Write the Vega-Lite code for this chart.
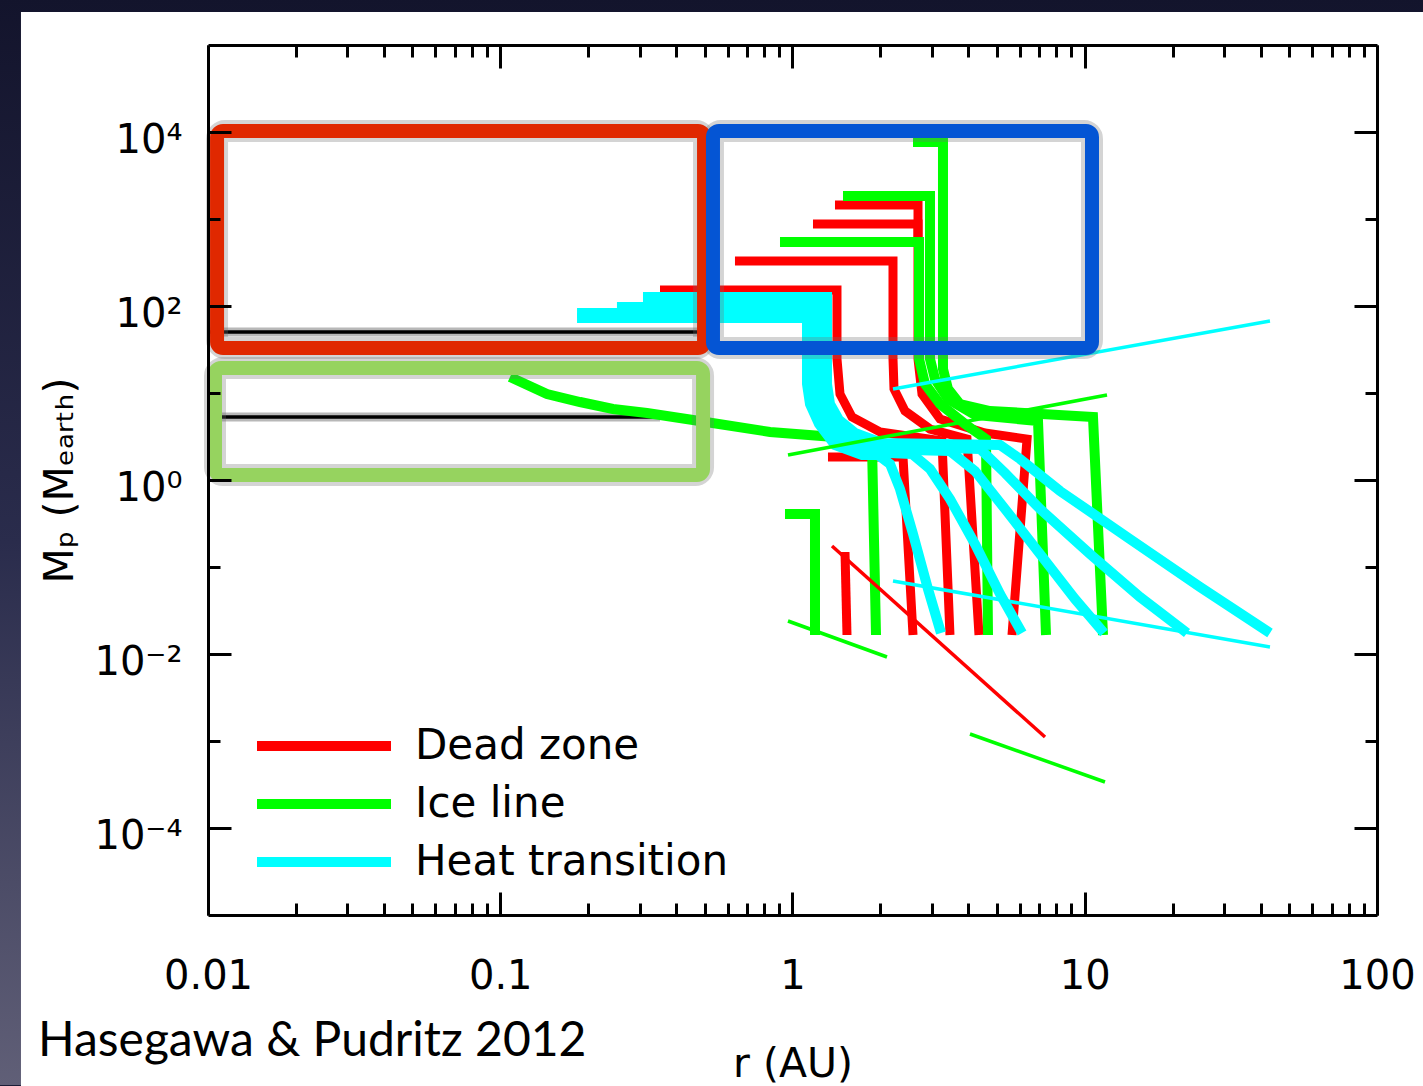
{
  "$schema": "https://vega.github.io/schema/vega-lite/v6.json",
  "width": 1169,
  "height": 870,
  "autosize": {"type": "none"},
  "padding": {"left": 208, "top": 45, "right": 46, "bottom": 171},
  "background": "#1b1d37",
  "config": {"view": {"stroke": null}, "font": "DejaVu Sans"},
  "datasets": {
    "tracks": [
      {"series": "Dead zone", "track": "d1", "i": 0, "r": 1.5363, "m": 0.01654},
      {"series": "Dead zone", "track": "d1", "i": 1, "r": 1.5122, "m": 0.1487},
      {"series": "Dead zone", "track": "d2", "i": 0, "r": 2.5844, "m": 0.01654},
      {"series": "Dead zone", "track": "d2", "i": 1, "r": 2.3884, "m": 1.838},
      {"series": "Dead zone", "track": "d2", "i": 2, "r": 1.3226, "m": 1.838},
      {"series": "Dead zone", "track": "d3", "i": 0, "r": 3.4583, "m": 0.01654},
      {"series": "Dead zone", "track": "d3", "i": 1, "r": 3.247, "m": 2.807},
      {"series": "Dead zone", "track": "d3", "i": 2, "r": 1.9925, "m": 3.563},
      {"series": "Dead zone", "track": "d3", "i": 3, "r": 1.598, "m": 5.298},
      {"series": "Dead zone", "track": "d3", "i": 4, "r": 1.4538, "m": 9.739},
      {"series": "Dead zone", "track": "d3", "i": 5, "r": 1.4198, "m": 24.59},
      {"series": "Dead zone", "track": "d3", "i": 6, "r": 1.4198, "m": 152.7},
      {"series": "Dead zone", "track": "d3", "i": 7, "r": 0.35206, "m": 152.7},
      {"series": "Dead zone", "track": "d4", "i": 0, "r": 4.3464, "m": 0.01654},
      {"series": "Dead zone", "track": "d4", "i": 1, "r": 3.9542, "m": 2.96},
      {"series": "Dead zone", "track": "d4", "i": 2, "r": 2.9542, "m": 3.857},
      {"series": "Dead zone", "track": "d4", "i": 3, "r": 2.4263, "m": 6.21},
      {"series": "Dead zone", "track": "d4", "i": 4, "r": 2.2249, "m": 11.12},
      {"series": "Dead zone", "track": "d4", "i": 5, "r": 2.2074, "m": 24.59},
      {"series": "Dead zone", "track": "d4", "i": 6, "r": 2.2074, "m": 329.1},
      {"series": "Dead zone", "track": "d4", "i": 7, "r": 0.63557, "m": 329.1},
      {"series": "Dead zone", "track": "d5", "i": 0, "r": 5.6372, "m": 0.01654},
      {"series": "Dead zone", "track": "d5", "i": 1, "r": 6.3456, "m": 2.96},
      {"series": "Dead zone", "track": "d5", "i": 2, "r": 4.5567, "m": 3.47},
      {"series": "Dead zone", "track": "d5", "i": 3, "r": 3.1963, "m": 5.025},
      {"series": "Dead zone", "track": "d5", "i": 4, "r": 2.7744, "m": 9.739},
      {"series": "Dead zone", "track": "d5", "i": 5, "r": 2.6883, "m": 24.59},
      {"series": "Dead zone", "track": "d5", "i": 6, "r": 2.6883, "m": 876.0},
      {"series": "Dead zone", "track": "d5", "i": 7, "r": 1.1752, "m": 876.0},
      {"series": "Dead zone", "track": "d6", "i": 0, "r": 2.6883, "m": 516.1},
      {"series": "Dead zone", "track": "d6", "i": 1, "r": 2.6883, "m": 1448.4},
      {"series": "Dead zone", "track": "d6", "i": 2, "r": 1.3976, "m": 1448.4},
      {"series": "Ice line", "track": "i1", "i": 0, "r": 1.1939, "m": 0.01654},
      {"series": "Ice line", "track": "i1", "i": 1, "r": 1.1939, "m": 0.4066},
      {"series": "Ice line", "track": "i1", "i": 2, "r": 0.94258, "m": 0.4066},
      {"series": "Ice line", "track": "i2", "i": 0, "r": 1.9307, "m": 0.01654},
      {"series": "Ice line", "track": "i2", "i": 1, "r": 1.8708, "m": 2.526},
      {"series": "Ice line", "track": "i2", "i": 2, "r": 1.702, "m": 2.96},
      {"series": "Ice line", "track": "i2", "i": 3, "r": 0.83753, "m": 3.563},
      {"series": "Ice line", "track": "i2", "i": 4, "r": 0.45659, "m": 4.894},
      {"series": "Ice line", "track": "i2", "i": 5, "r": 0.31777, "m": 5.89},
      {"series": "Ice line", "track": "i2", "i": 6, "r": 0.24302, "m": 6.548},
      {"series": "Ice line", "track": "i2", "i": 7, "r": 0.18749, "m": 7.88},
      {"series": "Ice line", "track": "i2", "i": 8, "r": 0.14454, "m": 9.739},
      {"series": "Ice line", "track": "i2", "i": 9, "r": 0.10798, "m": 15.27},
      {"series": "Ice line", "track": "i3", "i": 0, "r": 4.6658, "m": 0.01654},
      {"series": "Ice line", "track": "i3", "i": 1, "r": 4.5928, "m": 2.96},
      {"series": "Ice line", "track": "i3", "i": 2, "r": 3.8924, "m": 4.403},
      {"series": "Ice line", "track": "i3", "i": 3, "r": 3.1963, "m": 7.474},
      {"series": "Ice line", "track": "i3", "i": 4, "r": 2.8408, "m": 12.69},
      {"series": "Ice line", "track": "i3", "i": 5, "r": 2.7096, "m": 24.59},
      {"series": "Ice line", "track": "i3", "i": 6, "r": 2.7096, "m": 543.9},
      {"series": "Ice line", "track": "i3", "i": 7, "r": 0.90617, "m": 543.9},
      {"series": "Ice line", "track": "i4", "i": 0, "r": 7.3696, "m": 0.01654},
      {"series": "Ice line", "track": "i4", "i": 1, "r": 6.9192, "m": 4.766},
      {"series": "Ice line", "track": "i4", "i": 2, "r": 4.2115, "m": 5.586},
      {"series": "Ice line", "track": "i4", "i": 3, "r": 3.4042, "m": 8.532},
      {"series": "Ice line", "track": "i4", "i": 4, "r": 3.0729, "m": 14.49},
      {"series": "Ice line", "track": "i4", "i": 5, "r": 2.9542, "m": 24.59},
      {"series": "Ice line", "track": "i4", "i": 6, "r": 2.9542, "m": 1838.5},
      {"series": "Ice line", "track": "i4", "i": 7, "r": 1.4886, "m": 1838.5},
      {"series": "Ice line", "track": "i5", "i": 0, "r": 11.546, "m": 0.01654},
      {"series": "Ice line", "track": "i5", "i": 1, "r": 10.671, "m": 5.298},
      {"series": "Ice line", "track": "i5", "i": 2, "r": 4.74, "m": 6.21},
      {"series": "Ice line", "track": "i5", "i": 3, "r": 3.7419, "m": 7.474},
      {"series": "Ice line", "track": "i5", "i": 4, "r": 3.4042, "m": 11.12},
      {"series": "Ice line", "track": "i5", "i": 5, "r": 3.2728, "m": 18.88},
      {"series": "Ice line", "track": "i5", "i": 6, "r": 3.2728, "m": 7675},
      {"series": "Ice line", "track": "i5", "i": 7, "r": 2.5844, "m": 7675},
      {"series": "Heat transition", "track": "h1", "i": 0, "r": 3.2216, "m": 0.01743},
      {"series": "Heat transition", "track": "h1", "i": 1, "r": 2.9081, "m": 0.05586},
      {"series": "Heat transition", "track": "h1", "i": 2, "r": 2.5844, "m": 0.2394},
      {"series": "Heat transition", "track": "h1", "i": 3, "r": 2.3326, "m": 0.788},
      {"series": "Heat transition", "track": "h1", "i": 4, "r": 2.1559, "m": 1.527},
      {"series": "Heat transition", "track": "h1", "i": 5, "r": 1.9614, "m": 1.938},
      {"series": "Heat transition", "track": "h1", "i": 6, "r": 1.7291, "m": 1.938},
      {"series": "Heat transition", "track": "h1", "i": 7, "r": 1.3976, "m": 2.526},
      {"series": "Heat transition", "track": "h1", "i": 8, "r": 1.232, "m": 4.403},
      {"series": "Heat transition", "track": "h1", "i": 9, "r": 1.1478, "m": 7.474},
      {"series": "Heat transition", "track": "h1", "i": 10, "r": 1.121, "m": 12.69},
      {"series": "Heat transition", "track": "h1", "i": 11, "r": 1.121, "m": 72.79},
      {"series": "Heat transition", "track": "h1", "i": 12, "r": 0.18312, "m": 72.79},
      {"series": "Heat transition", "track": "h2", "i": 0, "r": 6.1006, "m": 0.01743},
      {"series": "Heat transition", "track": "h2", "i": 1, "r": 5.1286, "m": 0.04894},
      {"series": "Heat transition", "track": "h2", "i": 2, "r": 4.2115, "m": 0.1838},
      {"series": "Heat transition", "track": "h2", "i": 3, "r": 3.4583, "m": 0.6047},
      {"series": "Heat transition", "track": "h2", "i": 4, "r": 2.9542, "m": 1.338},
      {"series": "Heat transition", "track": "h2", "i": 5, "r": 2.5641, "m": 1.99},
      {"series": "Heat transition", "track": "h2", "i": 6, "r": 1.7985, "m": 2.0977},
      {"series": "Heat transition", "track": "h2", "i": 7, "r": 1.4538, "m": 2.734},
      {"series": "Heat transition", "track": "h2", "i": 8, "r": 1.2816, "m": 4.403},
      {"series": "Heat transition", "track": "h2", "i": 9, "r": 1.1939, "m": 7.474},
      {"series": "Heat transition", "track": "h2", "i": 10, "r": 1.166, "m": 12.69},
      {"series": "Heat transition", "track": "h2", "i": 11, "r": 1.166, "m": 83.09},
      {"series": "Heat transition", "track": "h2", "i": 12, "r": 0.18312, "m": 83.09},
      {"series": "Heat transition", "track": "h3", "i": 0, "r": 11.637, "m": 0.01743},
      {"series": "Heat transition", "track": "h3", "i": 1, "r": 9.2607, "m": 0.04287},
      {"series": "Heat transition", "track": "h3", "i": 2, "r": 7.0291, "m": 0.1411},
      {"series": "Heat transition", "track": "h3", "i": 3, "r": 5.3357, "m": 0.4642},
      {"series": "Heat transition", "track": "h3", "i": 4, "r": 4.2115, "m": 1.269},
      {"series": "Heat transition", "track": "h3", "i": 5, "r": 3.4583, "m": 2.154},
      {"series": "Heat transition", "track": "h3", "i": 6, "r": 1.8708, "m": 2.272},
      {"series": "Heat transition", "track": "h3", "i": 7, "r": 1.5122, "m": 2.96},
      {"series": "Heat transition", "track": "h3", "i": 8, "r": 1.3331, "m": 4.403},
      {"series": "Heat transition", "track": "h3", "i": 9, "r": 1.2418, "m": 7.474},
      {"series": "Heat transition", "track": "h3", "i": 10, "r": 1.2128, "m": 12.69},
      {"series": "Heat transition", "track": "h3", "i": 11, "r": 1.2128, "m": 97.39},
      {"series": "Heat transition", "track": "h3", "i": 12, "r": 0.2508, "m": 97.39},
      {"series": "Heat transition", "track": "h4", "i": 0, "r": 22.38, "m": 0.01743},
      {"series": "Heat transition", "track": "h4", "i": 1, "r": 15.457, "m": 0.0452},
      {"series": "Heat transition", "track": "h4", "i": 2, "r": 10.422, "m": 0.1411},
      {"series": "Heat transition", "track": "h4", "i": 3, "r": 7.0291, "m": 0.4642},
      {"series": "Heat transition", "track": "h4", "i": 4, "r": 5.3357, "m": 1.2036},
      {"series": "Heat transition", "track": "h4", "i": 5, "r": 4.3808, "m": 2.272},
      {"series": "Heat transition", "track": "h4", "i": 6, "r": 1.946, "m": 2.4595},
      {"series": "Heat transition", "track": "h4", "i": 7, "r": 1.573, "m": 3.2043},
      {"series": "Heat transition", "track": "h4", "i": 8, "r": 1.3868, "m": 4.6416},
      {"series": "Heat transition", "track": "h4", "i": 9, "r": 1.2917, "m": 7.474},
      {"series": "Heat transition", "track": "h4", "i": 10, "r": 1.2616, "m": 12.69},
      {"series": "Heat transition", "track": "h4", "i": 11, "r": 1.2616, "m": 111.2},
      {"series": "Heat transition", "track": "h4", "i": 12, "r": 0.30792, "m": 111.2},
      {"series": "Heat transition", "track": "h5", "i": 0, "r": 43.03, "m": 0.01743},
      {"series": "Heat transition", "track": "h5", "i": 1, "r": 24.801, "m": 0.05891},
      {"series": "Heat transition", "track": "h5", "i": 2, "r": 14.284, "m": 0.2098},
      {"series": "Heat transition", "track": "h5", "i": 3, "r": 8.2286, "m": 0.7474},
      {"series": "Heat transition", "track": "h5", "i": 4, "r": 6.0053, "m": 1.743},
      {"series": "Heat transition", "track": "h5", "i": 5, "r": 5.1286, "m": 2.526},
      {"series": "Heat transition", "track": "h5", "i": 6, "r": 2.0242, "m": 2.6638},
      {"series": "Heat transition", "track": "h5", "i": 7, "r": 1.6362, "m": 3.47},
      {"series": "Heat transition", "track": "h5", "i": 8, "r": 1.4424, "m": 4.894},
      {"series": "Heat transition", "track": "h5", "i": 9, "r": 1.3436, "m": 7.474},
      {"series": "Heat transition", "track": "h5", "i": 10, "r": 1.3122, "m": 12.69},
      {"series": "Heat transition", "track": "h5", "i": 11, "r": 1.3122, "m": 126.9},
      {"series": "Heat transition", "track": "h5", "i": 12, "r": 0.30792, "m": 126.9}
    ],
    "thin": [
      {"series": "Ice line", "track": "ta", "i": 0, "r": 0.96515, "m": 0.02395},
      {"series": "Ice line", "track": "ta", "i": 1, "r": 2.1055, "m": 0.009237},
      {"series": "Ice line", "track": "tb", "i": 0, "r": 4.0488, "m": 0.001204},
      {"series": "Ice line", "track": "tb", "i": 1, "r": 11.729, "m": 0.0003379},
      {"series": "Ice line", "track": "tc", "i": 0, "r": 0.96515, "m": 1.938},
      {"series": "Ice line", "track": "tc", "i": 1, "r": 11.915, "m": 9.484},
      {"series": "Dead zone", "track": "td", "i": 0, "r": 1.365, "m": 0.1744},
      {"series": "Dead zone", "track": "td", "i": 1, "r": 7.3118, "m": 0.001111},
      {"series": "Heat transition", "track": "te", "i": 0, "r": 2.2074, "m": 11.12},
      {"series": "Heat transition", "track": "te", "i": 1, "r": 43.03, "m": 67.23},
      {"series": "Heat transition", "track": "tf", "i": 0, "r": 2.2074, "m": 0.069},
      {"series": "Heat transition", "track": "tf", "i": 1, "r": 43.03, "m": 0.01204}
    ],
    "black": [
      {"m": 50.24, "r": 0.01, "r2": 0.4827},
      {"m": 5.298, "r": 0.01, "r2": 0.352}
    ],
    "boxes": [
      {"box": "red", "r": 0.01074, "r2": 0.4981, "m": 10268, "m2": 32.91},
      {"box": "blue", "r": 0.5344, "r2": 10.587, "m": 10268, "m2": 32.91},
      {"box": "green", "r": 0.010567, "r2": 0.4942, "m": 19.38, "m2": 1.1416}
    ]
  },
  "layer": [
    {
      "data": {"values": [{"panel": "slide"}]},
      "mark": {"type": "rect", "fill": {"gradient": "linear", "x1": 0, "y1": 0, "x2": 0, "y2": 1, "stops": [{"offset": 0, "color": "#13142c"}, {"offset": 0.5, "color": "#2a2c4c"}, {"offset": 1, "color": "#605f77"}]}},
      "encoding": {
        "x": {"datum": 0.0019417, "type": "quantitative", "scale": {"type": "log", "domain": [0.01, 100]}, "axis": null},
        "x2": {"datum": 143.7},
        "y": {"datum": 337900, "type": "quantitative", "scale": {"type": "log", "domain": [0.00001, 100000]}, "axis": null},
        "y2": {"datum": 1.111e-7}
      }
    },
    {
      "data": {"values": [{"panel": "page"}]},
      "mark": {"type": "rect", "fill": "#ffffff"},
      "encoding": {
        "x": {"datum": 0.002291, "type": "quantitative", "scale": {"type": "log", "domain": [0.01, 100]}, "axis": null},
        "x2": {"datum": 1000},
        "y": {"datum": 239500, "type": "quantitative", "scale": {"type": "log", "domain": [0.00001, 100000]}, "axis": null},
        "y2": {"datum": 1e-9}
      }
    },
    {
      "data": {"name": "black"},
      "mark": {"type": "rule", "color": "#b8b8b8", "strokeWidth": 9},
      "encoding": {
        "x": {"field": "r", "type": "quantitative", "scale": {"type": "log", "domain": [0.01, 100]}, "axis": null},
        "x2": {"field": "r2"},
        "y": {"field": "m", "type": "quantitative", "scale": {"type": "log", "domain": [0.00001, 100000]}, "axis": null}
      }
    },
    {
      "data": {"name": "black"},
      "mark": {"type": "rule", "color": "#000000", "strokeWidth": 3.5},
      "encoding": {
        "x": {"field": "r", "type": "quantitative", "scale": {"type": "log", "domain": [0.01, 100]}, "axis": null},
        "x2": {"field": "r2"},
        "y": {"field": "m", "type": "quantitative", "scale": {"type": "log", "domain": [0.00001, 100000]}, "axis": null}
      }
    },
    {
      "data": {"name": "tracks"},
      "transform": [{"filter": "datum.series == 'Dead zone'"}],
      "mark": {"type": "line", "strokeWidth": 9, "strokeJoin": "miter", "strokeCap": "butt"},
      "encoding": {
        "x": {
          "field": "r", "type": "quantitative", "scale": {"type": "log", "domain": [0.01, 100]},
          "axis": {
            "orient": "bottom", "zindex": 1,
            "values": [0.01, 0.02, 0.03, 0.04, 0.05, 0.06, 0.07, 0.08, 0.09, 0.1, 0.2, 0.3, 0.4, 0.5, 0.6, 0.7, 0.8, 0.9, 1, 2, 3, 4, 5, 6, 7, 8, 9, 10, 20, 30, 40, 50, 60, 70, 80, 90, 100],
            "labelExpr": "datum.value == 0.01 ? '0.01' : datum.value == 0.1 ? '0.1' : datum.value == 1 ? '1' : datum.value == 10 ? '10' : datum.value == 100 ? '100' : ''",
            "tickSize": {"condition": {"test": "abs(log(datum.value)/LN10 - round(log(datum.value)/LN10)) < 0.01", "value": -23}, "value": -12},
            "tickColor": "#000000", "tickWidth": 3,
            "domainColor": "#000000", "domainWidth": 3,
            "grid": false,
            "labelFont": "DejaVu Sans", "labelFontSize": 40, "labelColor": "#000000", "labelPadding": 64,
            "labelFlush": false, "labelOverlap": false, "labelBound": false,
            "title": "r (AU)", "titleFont": "DejaVu Sans", "titleFontSize": 41, "titleFontWeight": "normal", "titleColor": "#000000", "titlePadding": 37
          }
        },
        "y": {
          "field": "m", "type": "quantitative", "scale": {"type": "log", "domain": [0.00001, 100000]},
          "axis": {
            "orient": "left", "zindex": 1,
            "values": [0.0001, 0.001, 0.01, 0.1, 1, 10, 100, 1000, 10000],
            "labelExpr": "datum.value > 5000 ? '10⁴' : (datum.value > 50 && datum.value < 200) ? '10²' : (datum.value > 0.5 && datum.value < 2) ? '10⁰' : (datum.value > 0.005 && datum.value < 0.02) ? '10⁻²' : datum.value < 0.0002 ? '10⁻⁴' : ''",
            "tickSize": {"condition": {"test": "abs(round(log(datum.value)/LN10)) % 2 == 0", "value": -23}, "value": -12},
            "tickColor": "#000000", "tickWidth": 3,
            "domainColor": "#000000", "domainWidth": 3,
            "grid": false,
            "labelFont": "DejaVu Sans", "labelFontSize": 40, "labelColor": "#000000", "labelPadding": 49, "labelOffset": 8,
            "labelOverlap": false, "labelBound": false,
            "title": "Mₚ (Mₑₐᵣₜₕ)", "titleFont": "DejaVu Sans", "titleFontSize": 41, "titleFontWeight": "normal", "titleColor": "#000000", "titlePadding": 12
          }
        },
        "color": {
          "field": "series", "type": "nominal",
          "scale": {"domain": ["Dead zone", "Ice line", "Heat transition"], "range": ["#ff0000", "#00ff00", "#00ffff"]},
          "legend": {
            "title": null, "orient": "none", "legendX": 95, "legendY": 680, "direction": "vertical",
            "symbolType": "M-6.7,0H6.7", "symbolSize": 400, "symbolStrokeWidth": 10,
            "labelFont": "DejaVu Sans", "labelFontSize": 42, "labelColor": "#000000", "labelOffset": 70, "labelLimit": 700,
            "rowPadding": 16, "padding": 0
          }
        },
        "detail": {"field": "track", "type": "nominal"},
        "order": {"field": "i", "type": "quantitative"}
      }
    },
    {
      "data": {"name": "tracks"},
      "transform": [{"filter": "datum.series == 'Ice line'"}],
      "mark": {"type": "line", "strokeWidth": 10, "strokeJoin": "miter", "strokeCap": "butt"},
      "encoding": {
        "x": {"field": "r", "type": "quantitative", "scale": {"type": "log", "domain": [0.01, 100]}, "axis": null},
        "y": {"field": "m", "type": "quantitative", "scale": {"type": "log", "domain": [0.00001, 100000]}, "axis": null},
        "color": {"field": "series", "type": "nominal"},
        "detail": {"field": "track", "type": "nominal"},
        "order": {"field": "i", "type": "quantitative"}
      }
    },
    {
      "data": {"name": "tracks"},
      "transform": [{"filter": "datum.series == 'Heat transition'"}],
      "mark": {"type": "line", "strokeWidth": 10, "strokeJoin": "miter", "strokeCap": "butt"},
      "encoding": {
        "x": {"field": "r", "type": "quantitative", "scale": {"type": "log", "domain": [0.01, 100]}, "axis": null},
        "y": {"field": "m", "type": "quantitative", "scale": {"type": "log", "domain": [0.00001, 100000]}, "axis": null},
        "color": {"field": "series", "type": "nominal"},
        "detail": {"field": "track", "type": "nominal"},
        "order": {"field": "i", "type": "quantitative"}
      }
    },
    {
      "data": {"name": "thin"},
      "mark": {"type": "line", "strokeWidth": 3.5, "strokeCap": "butt"},
      "encoding": {
        "x": {
          "field": "r", "type": "quantitative", "scale": {"type": "log", "domain": [0.01, 100]},
          "axis": {
            "orient": "top", "zindex": 1,
            "values": [0.01, 0.02, 0.03, 0.04, 0.05, 0.06, 0.07, 0.08, 0.09, 0.1, 0.2, 0.3, 0.4, 0.5, 0.6, 0.7, 0.8, 0.9, 1, 2, 3, 4, 5, 6, 7, 8, 9, 10, 20, 30, 40, 50, 60, 70, 80, 90, 100],
            "labels": false, "title": null, "grid": false,
            "tickSize": {"condition": {"test": "abs(log(datum.value)/LN10 - round(log(datum.value)/LN10)) < 0.01", "value": -23}, "value": -12},
            "tickColor": "#000000", "tickWidth": 3,
            "domainColor": "#000000", "domainWidth": 3
          }
        },
        "y": {
          "field": "m", "type": "quantitative", "scale": {"type": "log", "domain": [0.00001, 100000]},
          "axis": {
            "orient": "right", "zindex": 1,
            "values": [0.0001, 0.001, 0.01, 0.1, 1, 10, 100, 1000, 10000],
            "labels": false, "title": null, "grid": false,
            "tickSize": {"condition": {"test": "abs(round(log(datum.value)/LN10)) % 2 == 0", "value": -23}, "value": -12},
            "tickColor": "#000000", "tickWidth": 3,
            "domainColor": "#000000", "domainWidth": 3
          }
        },
        "color": {"field": "series", "type": "nominal"},
        "detail": {"field": "track", "type": "nominal"},
        "order": {"field": "i", "type": "quantitative"}
      }
    },
    {
      "data": {"name": "boxes"},
      "mark": {"type": "rect", "filled": false, "stroke": "#6f6f6f", "strokeWidth": 22, "strokeOpacity": 0.3, "cornerRadius": 8},
      "encoding": {
        "x": {"field": "r", "type": "quantitative", "scale": {"type": "log", "domain": [0.01, 100]}, "axis": null},
        "x2": {"field": "r2"},
        "y": {"field": "m", "type": "quantitative", "scale": {"type": "log", "domain": [0.00001, 100000]}, "axis": null},
        "y2": {"field": "m2"}
      }
    },
    {
      "data": {"name": "boxes"},
      "transform": [{"filter": "datum.box == 'green'"}],
      "mark": {"type": "rect", "filled": false, "stroke": "#96d35f", "strokeWidth": 14, "cornerRadius": 6},
      "encoding": {
        "x": {"field": "r", "type": "quantitative", "scale": {"type": "log", "domain": [0.01, 100]}, "axis": null},
        "x2": {"field": "r2"},
        "y": {"field": "m", "type": "quantitative", "scale": {"type": "log", "domain": [0.00001, 100000]}, "axis": null},
        "y2": {"field": "m2"}
      }
    },
    {
      "data": {"name": "boxes"},
      "transform": [{"filter": "datum.box == 'red'"}],
      "mark": {"type": "rect", "filled": false, "stroke": "#e02800", "strokeWidth": 14, "cornerRadius": 6},
      "encoding": {
        "x": {"field": "r", "type": "quantitative", "scale": {"type": "log", "domain": [0.01, 100]}, "axis": null},
        "x2": {"field": "r2"},
        "y": {"field": "m", "type": "quantitative", "scale": {"type": "log", "domain": [0.00001, 100000]}, "axis": null},
        "y2": {"field": "m2"}
      }
    },
    {
      "data": {"name": "boxes"},
      "transform": [{"filter": "datum.box == 'blue'"}],
      "mark": {"type": "rect", "filled": false, "stroke": "#0455d4", "strokeWidth": 14, "cornerRadius": 6},
      "encoding": {
        "x": {"field": "r", "type": "quantitative", "scale": {"type": "log", "domain": [0.01, 100]}, "axis": null},
        "x2": {"field": "r2"},
        "y": {"field": "m", "type": "quantitative", "scale": {"type": "log", "domain": [0.00001, 100000]}, "axis": null},
        "y2": {"field": "m2"}
      }
    },
    {
      "data": {"values": [{"label": "Hasegawa & Pudritz 2012"}]},
      "mark": {"type": "text", "font": "Lato", "fontSize": 48, "align": "left", "baseline": "alphabetic", "color": "#000000"},
      "encoding": {
        "text": {"field": "label", "type": "nominal"},
        "x": {"datum": 0.00262, "type": "quantitative", "scale": {"type": "log", "domain": [0.01, 100]}, "axis": null},
        "y": {"datum": 2.394e-7, "type": "quantitative", "scale": {"type": "log", "domain": [0.00001, 100000]}, "axis": null}
      }
    }
  ],
  "resolve": {"axis": {"x": "independent", "y": "independent"}}
}
